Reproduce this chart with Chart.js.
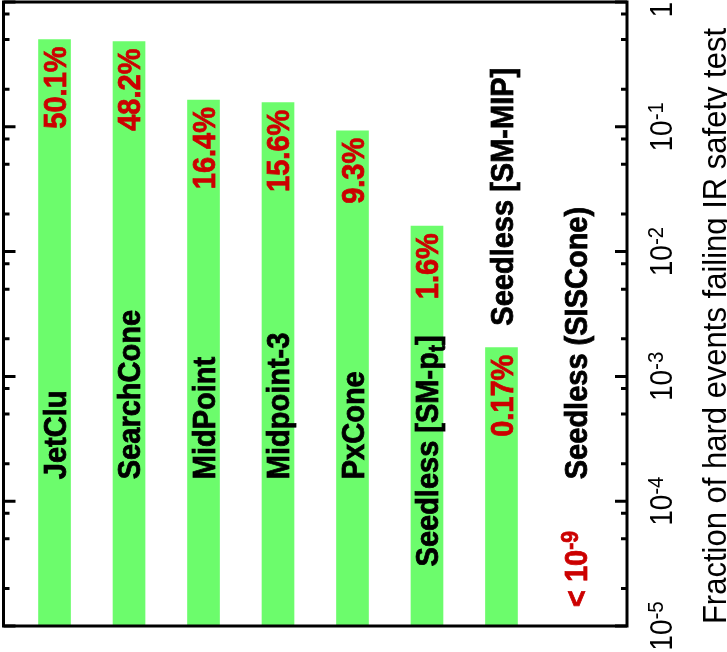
<!DOCTYPE html>
<html>
<head>
<meta charset="utf-8">
<script src="https://cdn.jsdelivr.net/npm/chart.js@4.4.1/dist/chart.umd.min.js"></script>
<style>
  html, body { margin: 0; padding: 0; background: #fff; }
  #wrap { width: 727px; height: 652px; }
</style>
</head>
<body>
<div id="wrap"><canvas id="myChart" width="727" height="652"></canvas></div>
<script>
var categories = ['JetClu', 'SearchCone', 'MidPoint', 'Midpoint-3', 'PxCone',
    'Seedless [SM-p_{t}]', 'Seedless [SM-MIP]', 'Seedless (SISCone)'];
var failFraction = [0.501, 0.482, 0.164, 0.156, 0.093, 0.016, 0.0017, 1e-9];
var decades = [1e-5, 1e-4, 1e-3, 1e-2, 1e-1, 1];
var minorSteps = [2, 5, 8];

var FONT = '"Liberation Sans", Arial, Helvetica, sans-serif';
var STRETCH = 1.1;   // the original glyphs look a bit wider than Arial
var RED = '#cc0000';
var GREEN = '#6cfc6c';

// split "10^{-1}" / "p_{t}" into plain, sup and sub pieces
function richParts(str) {
    var parts = [];
    var re = /([_^])\{([^}]*)\}/g;
    var last = 0, m;
    while ((m = re.exec(str)) !== null) {
        if (m.index > last) parts.push({ text: str.slice(last, m.index), kind: '' });
        parts.push({ text: m[2], kind: m[1] });
        last = re.lastIndex;
    }
    if (last < str.length) parts.push({ text: str.slice(last), kind: '' });
    return parts;
}

function measureRich(ctx, str, size, weight) {
    var parts = richParts(str);
    var total = 0;
    ctx.save();
    parts.forEach(function (p) {
        p.size = p.kind ? size * 0.73 : size;
        ctx.font = weight + ' ' + p.size + 'px ' + FONT;
        p.w = ctx.measureText(p.text).width;
        total += p.w;
    });
    ctx.restore();
    return { parts: parts, width: total };
}

// text rotated to read bottom-to-top, (x, y) = baseline anchor
function drawRich(ctx, str, x, y, size, weight, align, color) {
    var m = measureRich(ctx, str, size, weight);
    ctx.save();
    ctx.translate(x, y);
    ctx.rotate(-Math.PI / 2);
    ctx.scale(1, STRETCH);
    ctx.fillStyle = color;
    ctx.strokeStyle = color;
    ctx.lineWidth = 0.7;
    ctx.textAlign = 'left';
    ctx.textBaseline = 'alphabetic';
    var pos = align === 'center' ? -m.width / 2 : (align === 'right' ? -m.width : 0);
    m.parts.forEach(function (p) {
        ctx.font = weight + ' ' + p.size + 'px ' + FONT;
        var dy = p.kind === '^' ? -0.3 * size : (p.kind === '_' ? 0.2 * size : 0);
        ctx.fillText(p.text, pos, dy);
        if (weight === 'bold') ctx.strokeText(p.text, pos, dy);
        pos += p.w;
    });
    ctx.restore();
    return m.width;
}

function pctLabel(v, min) {
    if (v < min) return '< 10^{' + Math.round(Math.log10(v)) + '}';
    var p = v * 100;
    return (p >= 1 ? p.toFixed(1) : p.toFixed(2)) + '%';
}

var framePlugin = {
    id: 'frame',
    afterDatasetsDraw: function (chart) {
        var ctx = chart.ctx;
        var a = chart.chartArea;
        var ys = chart.scales.y;
        var xs = chart.scales.x;

        ctx.save();
        ctx.strokeStyle = '#000';
        ctx.lineWidth = 3;
        ys.ticks.forEach(function (t) {
            var py = ys.getPixelForValue(t.value);
            var len = t.major ? 12 : 6;
            ctx.beginPath();
            ctx.moveTo(a.left, py);
            ctx.lineTo(a.left + len, py);
            ctx.moveTo(a.right, py);
            ctx.lineTo(a.right - len, py);
            ctx.stroke();
        });
        ctx.strokeRect(a.left, a.top, a.right - a.left, a.bottom - a.top);
        ctx.restore();

        // tick labels on the right
        ys.ticks.forEach(function (t) {
            if (!t.major) return;
            var txt = t.value === 1 ? '1' : '10^{' + Math.round(Math.log10(t.value)) + '}';
            var w = measureRich(ctx, txt, 28, 'normal').width;
            var py = ys.getPixelForValue(t.value);
            py = Math.max(py, w / 2 + 2);
            drawRich(ctx, txt, a.right + 45, py, 28, 'normal', 'center', '#000');
        });

        // axis title
        drawRich(ctx, 'Fraction of hard events failing IR safety test',
            chart.width - 1, chart.height / 2, 31, 'normal', 'center', '#000');

        // labels in / over the bars
        var size = 29;
        var half = 0.716 * STRETCH / 2;
        var nameStart = ys.getPixelForValue(1.5e-4);
        var lowStart = ys.getPixelForValue(3e-5);
        categories.forEach(function (name, i) {
            var v = failFraction[i];
            var cx = xs.getPixelForValue(i + 1);
            var nameW = measureRich(ctx, name, size, 'bold').width;
            var start = nameStart;
            var pct = pctLabel(v, ys.min);
            if (v >= ys.min) {
                var top = ys.getPixelForValue(v);
                var pctW = measureRich(ctx, pct, size, 'bold').width;
                drawRich(ctx, pct, cx + size * half, top + 7, size, 'bold', 'right', RED);
                var pctEnd = top + 7 + pctW;
                if (start - nameW < pctEnd + 7) {
                    start = lowStart;
                    if (lowStart - nameW < pctEnd + 7) start = top - 22;
                }
            } else {
                drawRich(ctx, pct, cx + size * half, a.bottom - 19, size, 'bold', 'left', RED);
            }
            drawRich(ctx, name, cx + size * half, start, size, 'bold', 'left', '#000');
        });
    }
};

var ctx = document.getElementById('myChart').getContext('2d');
var myChart = new Chart(ctx, {
    type: 'bar',
    data: {
        datasets: [{
            data: categories.map(function (c, i) { return { x: i + 1, y: failFraction[i] }; }),
            backgroundColor: GREEN,
            borderWidth: 0,
            barThickness: 32,
            clip: 0
        }]
    },
    options: {
        responsive: false,
        devicePixelRatio: 1,
        animation: false,
        events: [],
        layout: { padding: { left: 3.5, top: 2, right: 0, bottom: 26 } },
        plugins: { legend: { display: false }, tooltip: { enabled: false } },
        scales: {
            x: {
                type: 'linear',
                display: false,
                offset: false,
                min: 0.315,
                max: 8.685
            },
            y: {
                type: 'logarithmic',
                position: 'right',
                min: 1e-5,
                max: 1,
                grid: { display: false },
                border: { display: false },
                ticks: { display: false },
                afterBuildTicks: function (scale) {
                    var ticks = [];
                    decades.forEach(function (d, k) {
                        ticks.push({ value: d, major: true });
                        if (k < decades.length - 1) {
                            minorSteps.forEach(function (s) {
                                ticks.push({ value: d * s, major: false });
                            });
                        }
                    });
                    scale.ticks = ticks;
                },
                afterFit: function (scale) {
                    scale.width = 100;
                }
            }
        }
    },
    plugins: [framePlugin]
});
</script>
</body>
</html>
